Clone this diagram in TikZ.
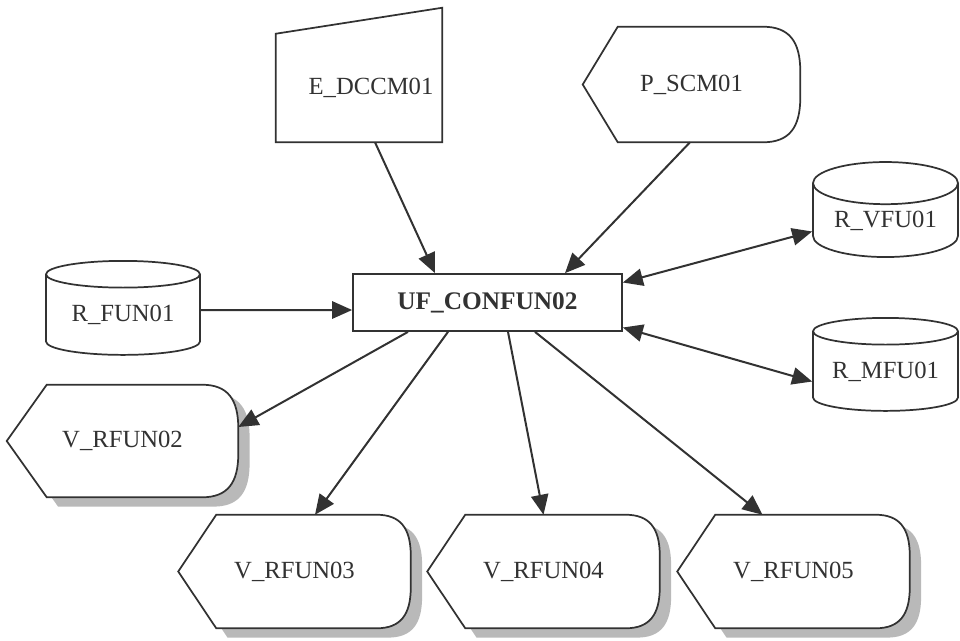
\documentclass[tikz,border=0pt]{standalone}
\usepackage{fontspec}
\setmainfont{Liberation Serif}
\usepackage{xcolor}
\usetikzlibrary{shapes.geometric}
\usetikzlibrary{arrows.meta}
\usetikzlibrary{calc}
\usetikzlibrary{backgrounds}

\definecolor{inkgray}{RGB}{50,50,50}
\definecolor{shadowgray}{RGB}{185,185,185}

% display outline: node name, left point inset, right corner radius
\newcommand{\dispoutline}[3]{(#1.west) -- ($(#1.north west)+(#2,0)$) -- ($(#1.north east)+(-#3,0)$) .. controls ($(#1.north east)+(-0.3*#3,0)$) and ($(#1.north east)+(0,0.4*#3)$) .. ($(#1.north east)+(0,1.2*#3)$) -- ($(#1.south east)+(0,-1.2*#3)$) .. controls ($(#1.south east)+(0,-0.4*#3)$) and ($(#1.south east)+(-0.3*#3,0)$) .. ($(#1.south east)+(-#3,0)$) -- ($(#1.south west)+(#2,0)$) -- cycle}

\tikzset{
  boxtext/.style={font=\fontsize{18.5}{21}\selectfont, text=inkgray, inner sep=0pt},
  funcbox/.style={boxtext, draw=inkgray, line width=1.3pt, font=\fontsize{19}{22}\selectfont\bfseries, minimum width=201.75pt, minimum height=42.75pt},
  store/.style={boxtext, cylinder, shape border rotate=90, draw=inkgray, line width=1.3pt},
  dispbox/.style={boxtext, minimum width=174pt, minimum height=84.75pt},
  outline/.style={draw=inkgray, line width=1.3pt, fill=white},
  vshadow/.style={fill=shadowgray, draw=none, transform canvas={xshift=8.5pt,yshift=-7pt}},
  flow/.style={draw=inkgray, line width=1.5pt, -{Triangle[length=15pt,width=13pt]}},
  dflow/.style={draw=inkgray, line width=1.5pt, {Triangle[length=15pt,width=13pt]}-{Triangle[length=15pt,width=13pt]}}
}

\begin{document}
\begin{tikzpicture}[x=0.75pt,y=0.75pt,yscale=-1,xscale=1]
\useasboundingbox (0,0) rectangle (960,640);

% Function
\node[funcbox] (uf) at (487.5,302.5) {UF\_CONFUN02};
% Manual input
\node[boxtext, minimum width=124.5pt, minimum height=81pt] (e) at (359,88) {\hspace*{18pt}E\_DCCM01};
% Display
\node[boxtext, minimum width=162.75pt, minimum height=86.25pt] (p) at (691.5,84.5) {P\_SCM01};
% Stores
\node[store, minimum width=115.5pt, minimum height=70.5pt, aspect=0.26] (rfun01) at (123,315) {R\_FUN01};
\node[store, minimum width=108.75pt, minimum height=71.25pt, aspect=0.41] (rvfu01) at (885.5,220.5) {R\_VFU01};
\node[store, minimum width=108.75pt, minimum height=69.75pt, aspect=0.25] (rmfu01) at (885.5,371.5) {R\_MFU01};
% Views
\node[dispbox, minimum width=173.25pt, minimum height=84pt] (v2) at (122.5,441) {V\_RFUN02};
\node[dispbox] (v3) at (294.5,571.5) {V\_RFUN03};
\node[dispbox] (v4) at (543.5,571.5) {V\_RFUN04};
\node[dispbox] (v5) at (793.5,571.5) {V\_RFUN05};

\begin{pgfonlayer}{background}
\draw[outline] (e.south west) -- (e.north west) -- ($(e.north east)+(0,-26)$) -- (e.south east) -- cycle;
\draw[outline] \dispoutline{p}{35}{37};
\fill[vshadow] \dispoutline{v2}{40}{36};
\fill[vshadow] \dispoutline{v3}{38}{34};
\fill[vshadow] \dispoutline{v4}{38}{34};
\fill[vshadow] \dispoutline{v5}{38}{34};
\draw[outline] \dispoutline{v2}{40}{36};
\draw[outline] \dispoutline{v3}{38}{34};
\draw[outline] \dispoutline{v4}{38}{34};
\draw[outline] \dispoutline{v5}{38}{34};
\end{pgfonlayer}

% Connectors
\draw[flow] ($(e.south)+(16,0)$) -- ($(uf.north)+(-52.5,0)$);
\draw[flow] ($(p.south)+(-1.5,0)$) -- ($(uf.north)+(77.5,0)$);
\draw[flow] ($(rfun01.east)+(0,-5)$) -- ($(uf.west)+(0,7.5)$);
\draw[dflow] ($(uf.east)+(0,-20)$) -- ($(rvfu01.west)+(0,11)$);
\draw[dflow] ($(uf.east)+(0,25)$) -- ($(rmfu01.west)+(0,10)$);
\draw[flow] ($(uf.south)+(-79.5,0)$) -- ($(v2.east)+(0,-14)$);
\draw[flow] ($(uf.south)+(-39.5,0)$) -- ($(v3.north)+(20.5,0)$);
\draw[flow] ($(uf.south)+(20.5,0)$) -- (v4.north);
\draw[flow] ($(uf.south)+(47.5,0)$) -- ($(v5.north)+(-31,0)$);

\end{tikzpicture}
\end{document}
